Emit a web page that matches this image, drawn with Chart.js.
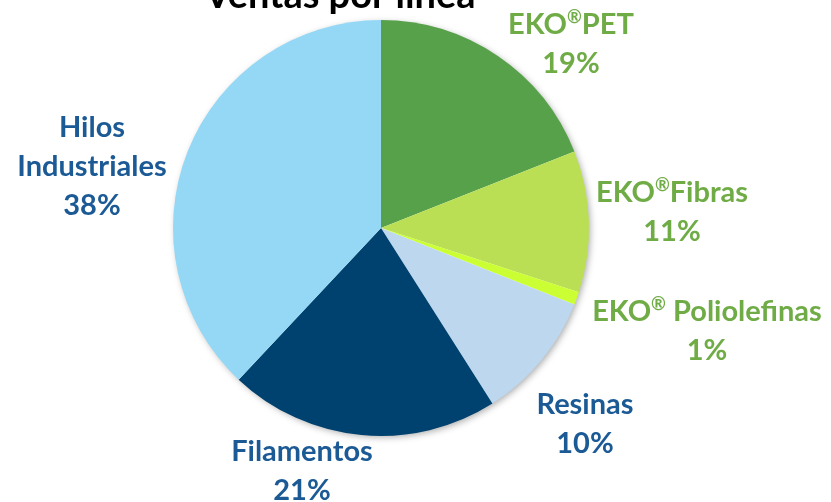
<!DOCTYPE html>
<html>
<head>
<meta charset="utf-8">
<script src="https://cdn.jsdelivr.net/npm/chart.js@4/dist/chart.umd.min.js"></script>
<style>
    html, body { margin: 0; padding: 0; background: #fff; }
    #wrap { width: 831px; height: 502px; position: relative; }
</style>
</head>
<body>
<div id="wrap"><canvas id="pie" width="831" height="502"></canvas></div>
<script>
// data
var categories = ["EKO®PET", "EKO®Fibras", "EKO® Poliolefinas", "Resinas", "Filamentos", "Hilos Industriales"];
var shares = [19, 11, 1, 10, 21, 38];
var sliceColors = ["#58a14b", "#badf55", "#ccff33", "#bdd7ee", "#00426f", "#94d8f6"];
var titleText = "Ventas por línea";

// label text colour and where each label block sits (centre x, first line y)
var GREEN = "#6fac46";
var BLUE = "#1c5a96";
var labelStyle = [
    { color: GREEN, x: 571, y: 25, lines: ["EKO®PET"] },
    { color: GREEN, x: 672, y: 193, lines: ["EKO®Fibras"] },
    { color: GREEN, x: 707, y: 312, lines: ["EKO® Poliolefinas"] },
    { color: BLUE, x: 585, y: 405, lines: ["Resinas"] },
    { color: BLUE, x: 302, y: 452, lines: ["Filamentos"] },
    { color: BLUE, x: 92, y: 128, lines: ["Hilos", "Industriales"] }
];
var FONT_FAMILY = "Lato, 'Open Sans', sans-serif";
var FONT_SIZE = 29;
var LINE_H = 39;

var pieShadow = {
    id: 'pieShadow',
    beforeDatasetsDraw: function (chart) {
        var arc = chart.getDatasetMeta(0).data[0];
        var ctx = chart.ctx;
        ctx.save();
        ctx.shadowColor = "rgba(0,0,0,0.35)";
        ctx.shadowBlur = 7;
        ctx.shadowOffsetX = 2;
        ctx.shadowOffsetY = 2;
        ctx.fillStyle = "#fff";
        ctx.beginPath();
        ctx.arc(arc.x, arc.y, arc.outerRadius - 1, 0, Math.PI * 2);
        ctx.fill();
        ctx.restore();
    }
};

// draws a line centred on x, with ® as a small superscript
function drawLine(ctx, text, x, y) {
    var big = "bold " + FONT_SIZE + "px " + FONT_FAMILY;
    var small = "bold " + Math.round(FONT_SIZE * 0.62) + "px " + FONT_FAMILY;
    var parts = text.split("®");
    var pieces = [];
    parts.forEach(function (p, i) {
        if (i > 0) pieces.push({ t: "®", f: small, dy: -FONT_SIZE * 0.28 });
        if (p) pieces.push({ t: p, f: big, dy: 0 });
    });
    var total = 0;
    pieces.forEach(function (p) { ctx.font = p.f; p.w = ctx.measureText(p.t).width; total += p.w; });
    var cx = x - total / 2;
    ctx.textAlign = "left";
    pieces.forEach(function (p) {
        ctx.font = p.f;
        ctx.fillText(p.t, cx, y + p.dy);
        cx += p.w;
    });
}

var sliceLabels = {
    id: 'sliceLabels',
    afterDraw: function (chart) {
        var ctx = chart.ctx;
        ctx.save();
        ctx.textBaseline = "middle";
        labelStyle.forEach(function (s, i) {
            ctx.fillStyle = s.color;
            var lines = s.lines.concat([shares[i] + "%"]);
            lines.forEach(function (t, j) {
                drawLine(ctx, t, s.x, s.y + j * LINE_H);
            });
        });
        // title, cut off by the top edge like the original
        ctx.fillStyle = "#000";
        ctx.font = "bold 38px " + FONT_FAMILY;
        ctx.textAlign = "center";
        ctx.textBaseline = "alphabetic";
        ctx.fillText(titleText, 340, 8);
        ctx.restore();
    }
};

new Chart(document.getElementById('pie'), {
    type: 'pie',
    data: {
        labels: categories,
        datasets: [{
            data: shares,
            backgroundColor: sliceColors,
            borderWidth: 0
        }]
    },
    options: {
        responsive: false,
        animation: false,
        layout: {
            padding: { left: 173, right: 242, top: 20, bottom: 66 }
        },
        plugins: {
            legend: { display: false },
            tooltip: { enabled: false }
        }
    },
    plugins: [pieShadow, sliceLabels]
});
</script>
</body>
</html>
